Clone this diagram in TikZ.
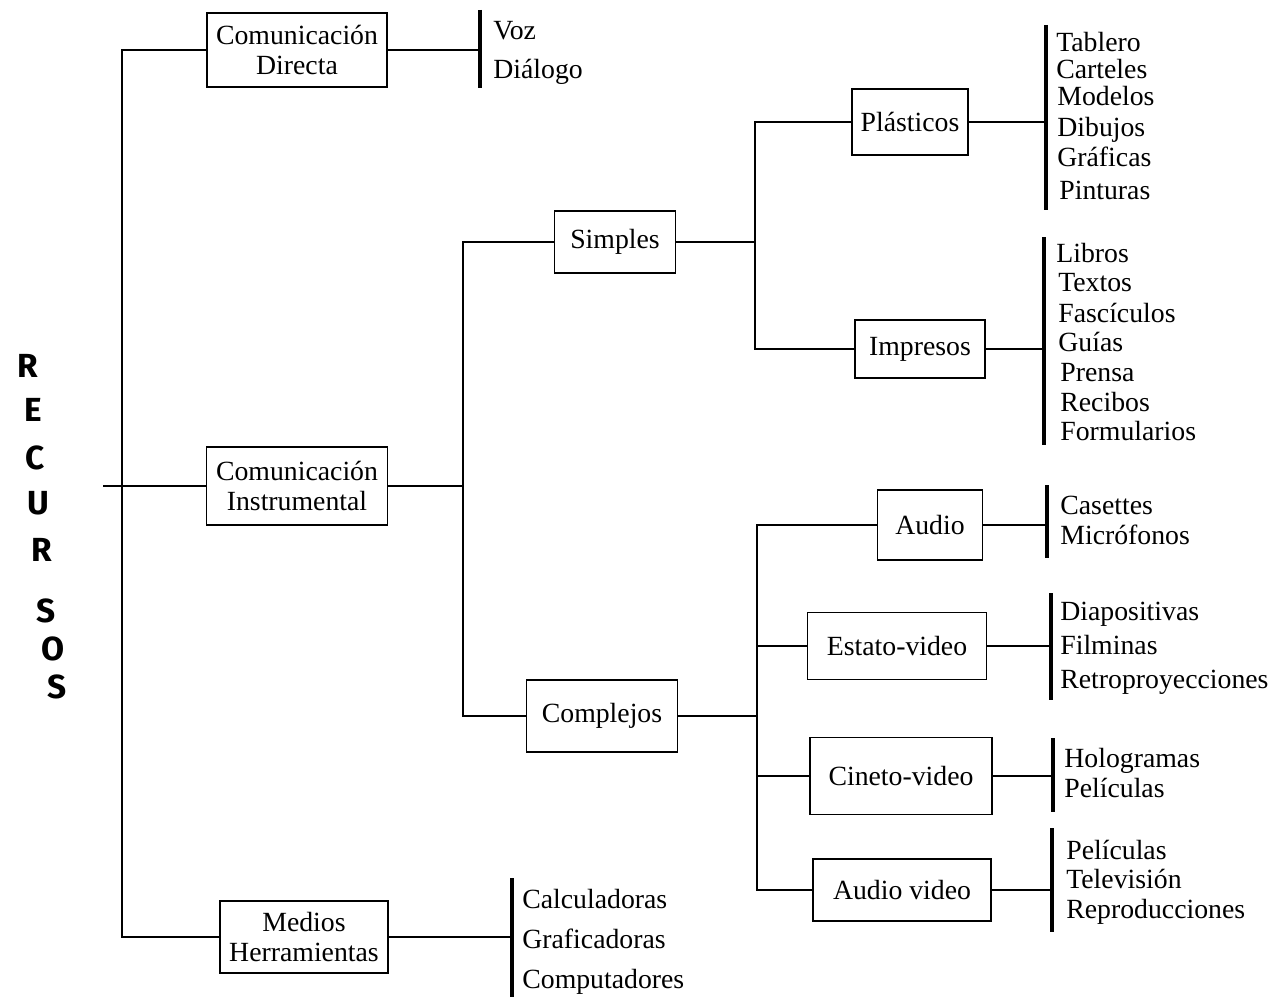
\documentclass[tikz,border=0pt]{standalone}
\usepackage{fontspec}
\setmainfont{Liberation Serif}
\newfontfamily\letrafont{Fira Sans}

\tikzset{
  caja/.style={draw, line width=1.1pt, align=center, inner sep=2pt, font=\fontsize{15.8}{17}\selectfont},
  item/.style={anchor=west, inner sep=0pt, yshift=-0.06cm, text height=2ex, text depth=.6ex, font=\fontsize{15.8}{17}\selectfont},
  linea/.style={line width=1.1pt},
  barra/.style={line width=2.4pt},
  letra/.style={inner sep=0pt, font=\letrafont\bfseries\fontsize{19}{19}\selectfont}
}

\begin{document}
\begin{tikzpicture}[x=0.02cm, y=-0.02cm]
\useasboundingbox (0,0) rectangle (1280,997);

% RECURSOS
\node[letra] (l1) at (28,366) {R};
\node[letra] (l2) at (33,410) {E};
\node[letra] (l3) at (35,458) {C};
\node[letra] (l4) at (38,503) {U};
\node[letra] (l5) at (42,550) {R};
\node[letra] (l6) at (46,611) {S};
\node[letra] (l7) at (53,649) {O};
\node[letra] (l8) at (57,687) {S};

% primer nivel
\node[caja, minimum width=3.6cm, minimum height=1.48cm] (dir) at (297,50) {Comunicación\\Directa};
\node[caja, minimum width=3.62cm, minimum height=1.56cm] (ins) at (297,486) {Comunicación\\Instrumental};
\node[caja, minimum width=3.36cm, minimum height=1.44cm] (med) at (304,937) {Medios\\Herramientas};

\coordinate (t0) at (103,486);
\coordinate (t1) at (122,486);
\draw[linea] (dir.west) -| (t1) |- (med.west);
\draw[linea] (t0) -- (ins.west);

% Comunicacion directa
\coordinate (b1a) at (480,10);
\coordinate (b1b) at (480,88);
\draw[barra] (b1a) -- (b1b);
\draw[linea] (dir.east) -- (dir.east -| b1a);
\node[item] (voz) at (493,31) {Voz};
\node[item] (dia) at (493,70) {Diálogo};

% Medios herramientas
\coordinate (b2a) at (512,878);
\coordinate (b2b) at (512,997);
\draw[barra] (b2a) -- (b2b);
\draw[linea] (med.east) -- (med.east -| b2a);
\node[item] (cal) at (522,900) {Calculadoras};
\node[item] (gra) at (522,940) {Graficadoras};
\node[item] (cmp) at (522,980) {Computadores};

% Comunicacion instrumental
\node[caja, minimum width=2.42cm, minimum height=1.24cm] (sim) at (615,242) {Simples};
\node[caja, minimum width=3.02cm, minimum height=1.44cm] (com) at (602,716) {Complejos};
\coordinate (t2) at (463,486);
\draw[linea] (ins.east) -- (t2);
\draw[linea] (sim.west) -| (t2) |- (com.west);

% Simples
\node[caja, minimum width=2.32cm, minimum height=1.32cm] (pla) at (910,122) {Plásticos};
\node[caja, minimum width=2.6cm, minimum height=1.16cm] (imp) at (920,349) {Impresos};
\coordinate (t3) at (755,242);
\draw[linea] (sim.east) -- (t3);
\draw[linea] (pla.west) -| (t3) |- (imp.west);

\coordinate (b3a) at (1046,25);
\coordinate (b3b) at (1046,210);
\draw[barra] (b3a) -- (b3b);
\draw[linea] (pla.east) -- (pla.east -| b3a);
\node[item] (tab) at (1056,43) {Tablero};
\node[item] (car) at (1056,70) {Carteles};
\node[item] (mod) at (1057,97) {Modelos};
\node[item] (dib) at (1057,128) {Dibujos};
\node[item] (grf) at (1057,158) {Gráficas};
\node[item] (pin) at (1059,191) {Pinturas};

\coordinate (b4a) at (1044,237);
\coordinate (b4b) at (1044,445);
\draw[barra] (b4a) -- (b4b);
\draw[linea] (imp.east) -- (imp.east -| b4a);
\node[item] (lib) at (1056,254) {Libros};
\node[item] (tex) at (1058,283) {Textos};
\node[item] (fas) at (1058,314) {Fascículos};
\node[item] (gui) at (1058,343) {Guías};
\node[item] (pre) at (1060,373) {Prensa};
\node[item] (rec) at (1060,403) {Recibos};
\node[item] (for) at (1060,432) {Formularios};

% Complejos
\node[caja, minimum width=2.1cm, minimum height=1.4cm] (aud) at (930,525) {Audio};
\node[caja, minimum width=3.58cm, minimum height=1.34cm] (est) at (897,646) {Estato-video};
\node[caja, minimum width=3.64cm, minimum height=1.54cm] (cin) at (901,776) {Cineto-video};
\node[caja, minimum width=3.56cm, minimum height=1.24cm] (av) at (902,890) {Audio video};
\coordinate (t4) at (757,716);
\draw[linea] (com.east) -- (t4);
\draw[linea] (aud.west) -| (t4) |- (av.west);
\draw[linea] (est.west) -- (est.west -| t4);
\draw[linea] (cin.west) -- (cin.west -| t4);

\coordinate (b5a) at (1047,485);
\coordinate (b5b) at (1047,558);
\draw[barra] (b5a) -- (b5b);
\draw[linea] (aud.east) -- (aud.east -| b5a);
\node[item] (cas) at (1060,506) {Casettes};
\node[item] (mic) at (1060,536) {Micrófonos};

\coordinate (b6a) at (1051,593);
\coordinate (b6b) at (1051,700);
\draw[barra] (b6a) -- (b6b);
\draw[linea] (est.east) -- (est.east -| b6a);
\node[item] (dip) at (1060,612) {Diapositivas};
\node[item] (fil) at (1060,646) {Filminas};
\node[item] (ret) at (1060,680) {Retroproyecciones};

\coordinate (b7a) at (1053,738);
\coordinate (b7b) at (1053,812);
\draw[barra] (b7a) -- (b7b);
\draw[linea] (cin.east) -- (cin.east -| b7a);
\node[item] (hol) at (1064,759) {Hologramas};
\node[item] (pel) at (1064,789) {Películas};

\coordinate (b8a) at (1052,828);
\coordinate (b8b) at (1052,932);
\draw[barra] (b8a) -- (b8b);
\draw[linea] (av.east) -- (av.east -| b8a);
\node[item] (pe2) at (1066,851) {Películas};
\node[item] (tel) at (1066,880) {Televisión};
\node[item] (rep) at (1066,910) {Reproducciones};

\end{tikzpicture}
\end{document}
